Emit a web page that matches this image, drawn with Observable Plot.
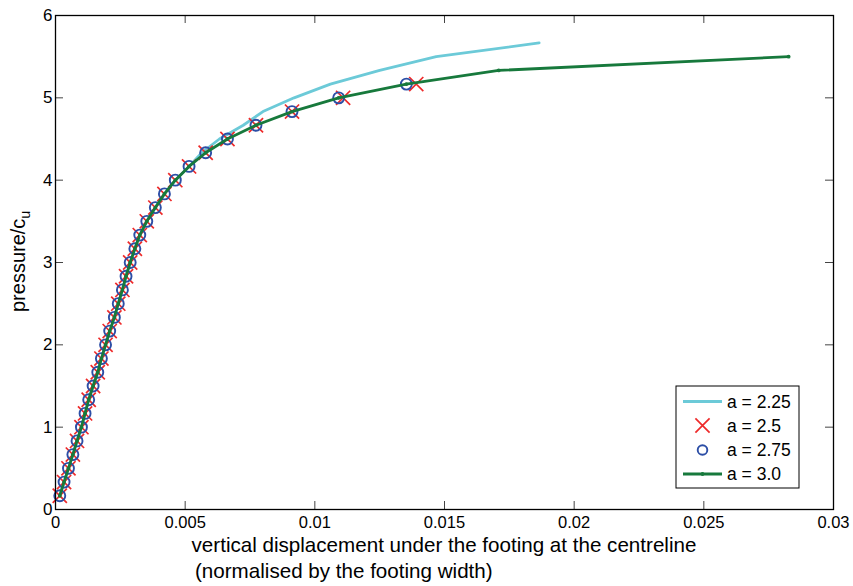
<!DOCTYPE html>
<html><head><meta charset="utf-8">
<script src="https://cdn.jsdelivr.net/npm/d3@7"></script>
<script src="https://cdn.jsdelivr.net/npm/@observablehq/plot@0.6"></script>
<style>body{margin:0;background:#fff} svg{display:block}</style>
</head><body><div id="chart"></div>
<script>
// ---- data ----
const xTicks = [0, 0.005, 0.01, 0.015, 0.02, 0.025, 0.03];
const xTickLabels = ["0", "0.005", "0.01", "0.015", "0.02", "0.025", "0.03"];
const yTicks = [0, 1, 2, 3, 4, 5, 6];
const yTickLabels = ["0", "1", "2", "3", "4", "5", "6"];

const seriesNames = ["a = 2.25", "a = 2.5", "a = 2.75", "a = 3.0"];

// pressure levels shared by the marker series (pressure / c_u)
const pressureLevels = [0.167,0.333,0.5,0.667,0.833,1.0,1.167,1.333,1.5,1.667,1.833,2.0,2.167,2.333,2.5,2.667,2.833,3.0,3.167,3.333,3.5,3.667,3.833,4.0,4.167,4.333,4.5,4.667,4.833,5.0,5.167];

// a = 2.75 (circles)
const disp_a275 = [0.000165,0.00033,0.0005,0.00067,0.00083,0.001,0.00114,0.00128,0.00145,0.00163,0.00177,0.00193,0.00209,0.00227,0.00242,0.00258,0.00272,0.00288,0.00306,0.00325,0.00352,0.00385,0.0042,0.00462,0.00515,0.00579,0.00663,0.00773,0.00912,0.01092,0.01353];
// a = 2.5 (crosses)
const disp_a25 = [0.000165,0.00033,0.0005,0.00067,0.00083,0.001,0.00114,0.00128,0.00145,0.00163,0.00177,0.00193,0.00209,0.00227,0.00242,0.00258,0.00272,0.00288,0.00306,0.00325,0.00352,0.00385,0.0042,0.00462,0.00515,0.00579,0.00663,0.00773,0.00912,0.01109,0.01391];
// a = 3.0 (green line with points)
const pressure_a30 = [0.167,0.333,0.5,0.667,0.833,1.0,1.167,1.333,1.5,1.667,1.833,2.0,2.167,2.333,2.5,2.667,2.833,3.0,3.167,3.333,3.5,3.667,3.833,4.0,4.167,4.333,4.5,4.667,4.833,5.0,5.167,5.333,5.5];
const disp_a30 = [0.000165,0.00033,0.0005,0.00067,0.00083,0.001,0.00114,0.00128,0.00145,0.00163,0.00177,0.00193,0.00209,0.00227,0.00242,0.00258,0.00272,0.00288,0.00306,0.00325,0.00352,0.00385,0.0042,0.00462,0.00515,0.00579,0.00663,0.00773,0.00912,0.01092,0.01353,0.01709,0.02827];
// a = 2.25 (cyan line)
const pressure_a225 = [0.167,0.333,0.5,0.667,0.833,1.0,1.167,1.333,1.5,1.667,1.833,2.0,2.167,2.333,2.5,2.667,2.833,3.0,3.167,3.333,3.5,3.667,3.833,4.0,4.167,4.333,4.5,4.667,4.833,5.0,5.167,5.333,5.5,5.667];
const disp_a225 = [0.000165,0.00033,0.0005,0.00067,0.00083,0.001,0.00114,0.00128,0.00145,0.00163,0.00177,0.00193,0.00209,0.00227,0.00242,0.00258,0.00272,0.00288,0.00306,0.00325,0.00352,0.00385,0.0042,0.00462,0.00515,0.00564,0.00632,0.00724,0.0080,0.0092,0.0106,0.0125,0.01468,0.01865];

// ---- styles ----
const cCyan = "#6ccad8", cRed = "#ee2a2a", cBlue = "#2c4ea6", cGreen = "#17793c";
const FONT = "'Liberation Sans', Arial, Helvetica, sans-serif";

const rows = (xs, ys) => xs.map((x, i) => ({x, y: ys[i]}));
const d225 = rows(disp_a225, pressure_a225);
const d25 = rows(disp_a25, pressureLevels);
const d275 = rows(disp_a275, pressureLevels);
const d30 = rows(disp_a30, pressure_a30);

const W = 853, H = 586, mL = 55, mR = 20, mT = 15, mB = 77;
const pw = W - mL - mR, ph = H - mT - mB;
const tickLen = 8;
const rTimes = 6.5, rCircle = 5.5;

const chart = Plot.plot({
  width: W, height: H,
  marginLeft: mL, marginRight: mR, marginTop: mT, marginBottom: mB,
  style: {fontFamily: FONT, background: "white", color: "black", overflow: "visible"},
  x: {domain: [0, 0.03]},
  y: {domain: [0, 6]},
  marks: [
    Plot.axisX({ticks: xTicks, tickSize: 0, tickPadding: 7, fontSize: 16.5, label: null,
      tickFormat: d => xTickLabels[xTicks.indexOf(d)]}),
    Plot.axisY({ticks: yTicks, tickSize: 0, tickPadding: 3, fontSize: 17, label: null,
      tickFormat: d => yTickLabels[yTicks.indexOf(d)]}),
    Plot.tickX(xTicks, {x: d => d, insetTop: ph - tickLen, stroke: "#444"}),
    Plot.tickX(xTicks, {x: d => d, insetBottom: ph - tickLen, stroke: "#444"}),
    Plot.tickY(yTicks, {y: d => d, insetRight: pw - tickLen, stroke: "#444"}),
    Plot.tickY(yTicks, {y: d => d, insetLeft: pw - tickLen, stroke: "#444"}),
    Plot.line(d225, {x: "x", y: "y", stroke: cCyan, strokeWidth: 2.8}),
    Plot.dot(d25, {x: "x", y: "y", symbol: "times", r: rTimes, stroke: cRed, strokeWidth: 1.7}),
    Plot.dot(d275, {x: "x", y: "y", r: rCircle, stroke: cBlue, strokeWidth: 1.9, fill: "none"}),
    Plot.line(d30, {x: "x", y: "y", stroke: cGreen, strokeWidth: 2.8}),
    Plot.dot(d30, {x: "x", y: "y", r: 1.9, fill: cGreen}),
    Plot.frame({stroke: "black", strokeWidth: 1.3})
  ]
});
document.getElementById("chart").appendChild(chart);

// ---- axis titles ----
const svg = d3.select(chart);
const g = svg.append("g").attr("font-family", FONT).attr("fill", "black");
g.append("text").attr("x", mL + pw / 2).attr("y", 552).attr("text-anchor", "middle")
  .attr("font-size", 20.6).text("vertical displacement under the footing at the centreline");
g.append("text").attr("x", 195).attr("y", 578).attr("text-anchor", "start")
  .attr("font-size", 20.6).text("(normalised by the footing width)");
const yl = g.append("text").attr("transform", "translate(25,312) rotate(-90)")
  .attr("text-anchor", "start").attr("font-size", 20);
yl.append("tspan").text("pressure/c");
yl.append("tspan").attr("font-size", 14.5).attr("dy", 5).text("u");

// ---- legend ----
const lg = svg.append("g").attr("font-family", FONT).attr("text-anchor", "start");
lg.append("rect").attr("x", 676).attr("y", 386).attr("width", 123).attr("height", 102)
  .attr("fill", "white").attr("stroke", "black").attr("stroke-width", 1);
const rowY = [401.5, 425.5, 450, 474];
const sx1 = 683, sx2 = 722, sxm = 702.5;
lg.append("line").attr("x1", sx1).attr("x2", sx2).attr("y1", rowY[0]).attr("y2", rowY[0])
  .attr("stroke", cCyan).attr("stroke-width", 2.8);
lg.append("path").attr("d", d3.symbol(d3.symbolTimes, Math.PI * rTimes * rTimes)())
  .attr("transform", `translate(${sxm},${rowY[1]})`).attr("fill", "none")
  .attr("stroke", cRed).attr("stroke-width", 1.7);
lg.append("circle").attr("cx", sxm).attr("cy", rowY[2]).attr("r", 4.8)
  .attr("fill", "none").attr("stroke", cBlue).attr("stroke-width", 1.9);
lg.append("line").attr("x1", sx1).attr("x2", sx2).attr("y1", rowY[3]).attr("y2", rowY[3])
  .attr("stroke", cGreen).attr("stroke-width", 2.8);
lg.append("circle").attr("cx", sxm).attr("cy", rowY[3]).attr("r", 1.9).attr("fill", cGreen);
seriesNames.forEach((name, i) => {
  lg.append("text").attr("x", 727).attr("y", rowY[i]).attr("dy", "0.35em")
    .attr("text-anchor", "start").attr("font-size", 17.5).attr("fill", "black").text(name);
});
</script>
</body></html>
